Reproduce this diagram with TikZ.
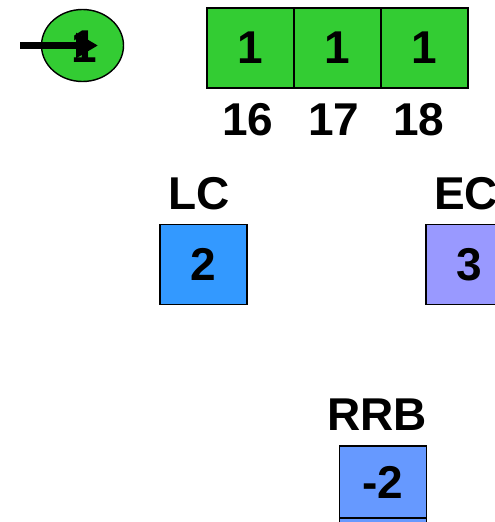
\documentclass[tikz,border=0pt]{standalone}
\usepackage{fontspec}
\setmainfont{Liberation Sans}
\usetikzlibrary{arrows.meta,shapes.geometric}
\definecolor{cgreen}{HTML}{33CC33}
\definecolor{cblue}{HTML}{3399FF}
\definecolor{cviolet}{HTML}{9999FF}
\definecolor{crrb}{HTML}{6699FF}
\begin{document}
\begin{tikzpicture}[x=1pt,y=-1pt,
  txt/.style={font=\fontsize{46}{52}\selectfont\bfseries, inner sep=0pt},
  cell/.style={txt, draw=black, line width=1.8pt, minimum width=87pt, minimum height=80pt},
  lbl/.style={txt}]
\useasboundingbox (0,0) rectangle (495,522);
\clip (0,0) rectangle (495,522);
% circle with arrow
\node[draw=black, line width=1.4pt, fill=cgreen, ellipse, minimum width=82pt, minimum height=72pt, inner sep=0pt] (circ) at (82.5,45.5) {};
\node[txt] (one) at (84,47) {1};
\coordinate (astart) at (20,45.5);
\coordinate (aend) at (98,45.5);
\draw[line width=7pt, -{Triangle[length=22pt,width=24pt]}] (astart) -- (aend);
% green cells
\node[cell, fill=cgreen] (c16) at (250.5,48) {1};
\node[cell, fill=cgreen] (c17) at (337.5,48) {1};
\node[cell, fill=cgreen] (c18) at (424.5,48) {1};
\node[lbl] (l16) at (248,120) {16};
\node[lbl] (l17) at (334,120) {17};
\node[lbl] (l18) at (419,120) {18};
% LC
\node[lbl] (lc) at (199,194) {LC};
\node[cell, fill=cblue] (b2) at (203.5,264.5) {2};
% EC
\node[lbl] (ec) at (466,194) {EC};
\node[cell, fill=cviolet] (b3) at (469.5,264.5) {3};
% RRB
\node[lbl] (rrb) at (377,415) {RRB};
\node[cell, fill=crrb, minimum height=72pt] (bm2) at (383,482) {-2};
\node[cell, fill=crrb, minimum height=72pt, anchor=north] (bm2b) at ([yshift=1.5pt]bm2.south) {};
\end{tikzpicture}
\end{document}
